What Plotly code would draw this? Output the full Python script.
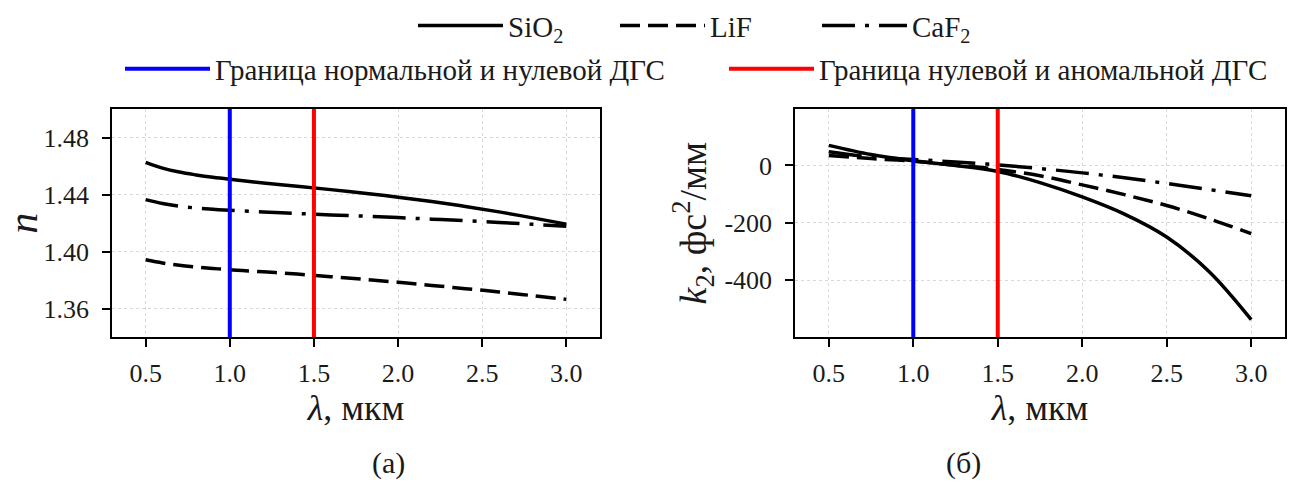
import plotly.graph_objects as go

# ---------------- data ----------------
lam_n = [0.5, 0.6, 0.7, 0.8, 0.9, 1.0, 1.2, 1.4, 1.6, 1.8, 2.0, 2.2, 2.4, 2.6, 2.8, 3.0]
n_sio2 = [1.4626, 1.4586, 1.4558, 1.4538, 1.4521, 1.4507, 1.4482, 1.4459, 1.4435, 1.4410,
          1.4382, 1.4351, 1.4317, 1.4279, 1.4237, 1.4193]
n_lif = [1.3943, 1.3921, 1.3905, 1.3893, 1.3883, 1.3873, 1.3859, 1.3843, 1.3825, 1.3806,
         1.3786, 1.3764, 1.3741, 1.3718, 1.3692, 1.3666]
n_caf2 = [1.4365, 1.4338, 1.4319, 1.4306, 1.4297, 1.4290, 1.4279, 1.4268, 1.4258, 1.4249,
          1.4239, 1.4228, 1.4217, 1.4205, 1.4192, 1.4179]

lam_k = [0.5, 0.75, 1.0, 1.25, 1.5, 1.75, 2.0, 2.25, 2.5, 2.75, 3.0]
k_sio2 = [70, 38, 16, 0, -21, -60, -110, -170, -250, -370, -538]
k_lif = [35, 24, 15, 1, -14, -36, -68, -102, -140, -186, -238]
k_caf2 = [48, 30, 21, 12, 2, -11, -26, -43, -63, -84, -106]

boundary_lam = [1.0, 1.5]
boundary_names = ["Граница нормальной и нулевой ДГС", "Граница нулевой и аномальной ДГС"]
boundary_colors = ["#0000ff", "#ff0000"]

materials = ["SiO<sub>2</sub>", "LiF", "CaF<sub>2</sub>"]

x_ticks = [0.5, 1.0, 1.5, 2.0, 2.5, 3.0]
n_ticks = [1.36, 1.40, 1.44, 1.48]
k_ticks = [-400, -200, 0]
k_ticklabels = ["-400", "-200", "0"]

# ---------------- figure ----------------
W, H = 1301, 501
FONT = "Liberation Serif"
TXT = "#1a1a1a"
dashes = ["solid", "20px,8px", "33px,10px,4px,10px"]
LW = 3.5

fig = go.Figure()

n_series = [n_sio2, n_lif, n_caf2]
k_series = [k_sio2, k_lif, k_caf2]

for i, name in enumerate(materials):
    fig.add_trace(go.Scatter(x=lam_n, y=n_series[i], mode="lines", name=name,
                             line=dict(color="black", width=LW, dash=dashes[i], shape="spline"),
                             xaxis="x", yaxis="y", legend="legend", showlegend=True))
    fig.add_trace(go.Scatter(x=lam_k, y=k_series[i], mode="lines", name=name,
                             line=dict(color="black", width=LW, dash=dashes[i], shape="spline"),
                             xaxis="x2", yaxis="y2", showlegend=False))

n_range = [1.34, 1.50]
k_range = [-600, 197]
leg_names = ["legend2", "legend3"]
for j, lb in enumerate(boundary_lam):
    fig.add_trace(go.Scatter(x=[lb, lb], y=n_range, mode="lines", name=boundary_names[j],
                             line=dict(color=boundary_colors[j], width=4),
                             xaxis="x", yaxis="y", legend=leg_names[j], showlegend=True))
    fig.add_trace(go.Scatter(x=[lb, lb], y=k_range, mode="lines", name=boundary_names[j],
                             line=dict(color=boundary_colors[j], width=4),
                             xaxis="x2", yaxis="y2", showlegend=False))

def px_x(p):
    return p / W

def px_y(p):
    return 1 - p / H

ydom = [px_y(334), px_y(101)]

common_axis = dict(
    showline=True, linecolor="black", linewidth=1.5, mirror=True,
    ticks="outside", ticklen=8, tickwidth=1.5, tickcolor="black",
    showgrid=True, gridcolor="#d9d9d9", griddash="dot", gridwidth=1,
    zeroline=False,
    tickfont=dict(family=FONT, size=26, color=TXT),
)

leg_common = dict(orientation="h", xanchor="left", yanchor="middle", itemwidth=85,
                  font=dict(family=FONT, size=29, color=TXT), bgcolor="rgba(0,0,0,0)",
                  itemclick=False, itemdoubleclick=False)

fig.update_layout(
    width=W, height=H,
    margin=dict(l=0, r=0, t=0, b=0),
    paper_bgcolor="white", plot_bgcolor="white",
    font=dict(family=FONT, color=TXT),
    xaxis=dict(domain=[px_x(112), px_x(600)], range=[0.3, 3.2], tickvals=x_ticks,
               tickformat=".1f", anchor="y", ticklabelstandoff=4,
               title=dict(text="<i>λ</i>, мкм", font=dict(family=FONT, size=36), standoff=2),
               **common_axis),
    yaxis=dict(domain=ydom, range=n_range, tickvals=n_ticks, tickformat=".2f", anchor="x",
               ticklabelstandoff=8,
               title=dict(text="<i>n</i>", font=dict(family=FONT, size=42), standoff=14),
               **common_axis),
    xaxis2=dict(domain=[px_x(795), px_x(1285)], range=[0.3, 3.2], tickvals=x_ticks,
                tickformat=".1f", anchor="y2", ticklabelstandoff=4,
                title=dict(text="<i>λ</i>, мкм", font=dict(family=FONT, size=36), standoff=2),
                **common_axis),
    yaxis2=dict(domain=ydom, range=k_range, tickvals=k_ticks, ticktext=k_ticklabels, anchor="x2",
                ticklabelstandoff=8,
                title=dict(text="<i>k</i><sub>2</sub>, фс<sup>2</sup>/мм",
                           font=dict(family=FONT, size=38), standoff=6),
                **common_axis),
    legend=dict(x=px_x(413), y=px_y(16), entrywidthmode="pixels", entrywidth=102, **leg_common),
    legend2=dict(x=px_x(120), y=px_y(60), **leg_common),
    legend3=dict(x=px_x(724), y=px_y(60), **leg_common),
    annotations=[
        dict(text="(а)", x=px_x(370), y=px_y(482), xref="paper", yref="paper",
             showarrow=False, font=dict(family=FONT, size=30, color=TXT)),
        dict(text="(б)", x=px_x(983), y=px_y(482), xref="paper", yref="paper",
             showarrow=False, font=dict(family=FONT, size=30, color=TXT)),
    ],
)

fig.write_html("out.html")
